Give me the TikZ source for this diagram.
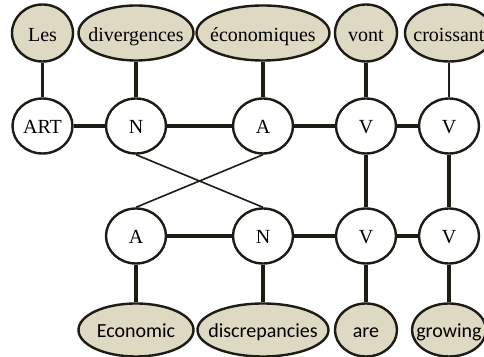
\documentclass[tikz,border=0pt]{standalone}
\usepackage{fontspec}
\setmainfont{Liberation Serif}
\newfontfamily\calibri{Carlito}
\usetikzlibrary{shapes.geometric}

\definecolor{wordfill}{HTML}{DDD9C3}
\definecolor{ink}{HTML}{1E1A14}

% text that does not widen its ellipse
\newcommand{\wrd}[1]{\makebox[0pt]{#1}}

\begin{document}
\begin{tikzpicture}[x=0.5pt,y=-0.5pt,
	word/.style={ellipse,draw=ink,line width=1.2pt,fill=wordfill,inner sep=0pt,text height=9pt,text depth=0pt,font=\fontsize{10}{12}\selectfont},
	eng/.style={word,text height=8pt,font=\calibri\fontsize{10}{12}\selectfont},
	tag/.style={ellipse,draw=ink,line width=1.2pt,fill=white,inner sep=0pt,minimum width=30pt,minimum height=27.5pt,text height=7.2pt,text depth=0pt,font=\fontsize{10}{12}\selectfont},
	link/.style={draw=ink,line width=1.6pt},
	thin/.style={draw=ink,line width=0.8pt}]

	\useasboundingbox (0,0) rectangle (484,357);

	% French words
	\node [word,minimum width=30.5pt,minimum height=28.5pt] (les) at (42.5,33) {\wrd{Les}};
	\node [word,minimum width=57.5pt,minimum height=27.5pt] (div) at (136,33) {\wrd{divergences}};
	\node [word,minimum width=66.5pt,minimum height=27.5pt] (eco) at (263,33) {\wrd{économiques}};
	\node [word,minimum width=31pt,minimum height=28.5pt] (vont) at (366,33) {\wrd{vont}};
	\node [word,minimum width=44pt,minimum height=28.5pt] (cro) at (449,33) {\wrd{croissant}};

	% French tags
	\node [tag] (art) at (42.5,126) {\wrd{ART}};
	\node [tag] (fn) at (136,126) {\wrd{N}};
	\node [tag] (fa) at (263,126) {\wrd{A}};
	\node [tag] (fv1) at (366,126) {\wrd{V}};
	\node [tag] (fv2) at (449,126) {\wrd{V}};

	% English tags
	\node [tag] (ea) at (136,236) {\wrd{A}};
	\node [tag] (en) at (263,236) {\wrd{N}};
	\node [tag] (ev1) at (366,236) {\wrd{V}};
	\node [tag] (ev2) at (449,236) {\wrd{V}};

	% English words
	\node [eng,minimum width=57.5pt,minimum height=26.5pt] (econ) at (136,330) {\wrd{Economic}};
	\node [eng,minimum width=65.5pt,minimum height=26.5pt] (disc) at (263,330) {\wrd{discrepancies}};
	\node [eng,minimum width=31pt,minimum height=26.5pt] (are) at (366,330) {\wrd{are}};
	\node [eng,minimum width=37pt,minimum height=26.5pt] (grow) at (449,330) {\wrd{growing}};

	\draw [link] (les) -- (art);
	\draw [link] (div) -- (fn);
	\draw [link] (eco) -- (fa);
	\draw [link] (vont) -- (fv1);
	\draw [thin] (cro) -- (fv2);

	\draw [link] (art) -- (fn);
	\draw [link] (fn) -- (fa);
	\draw [link] (fa) -- (fv1);
	\draw [link] (fv1) -- (fv2);

	\draw [thin] (fn.south) -- (en.north);
	\draw [thin] (fa.south) -- (ea.north);
	\draw [link] (fv1) -- (ev1);
	\draw [link] (fv2) -- (ev2);

	\draw [link] (ea) -- (en);
	\draw [link] (en) -- (ev1);
	\draw [link] (ev1) -- (ev2);

	\draw [link] (ea) -- (econ);
	\draw [link] (en) -- (disc);
	\draw [link] (ev1) -- (are);
	\draw [link] (ev2) -- (grow);

\end{tikzpicture}
\end{document}
